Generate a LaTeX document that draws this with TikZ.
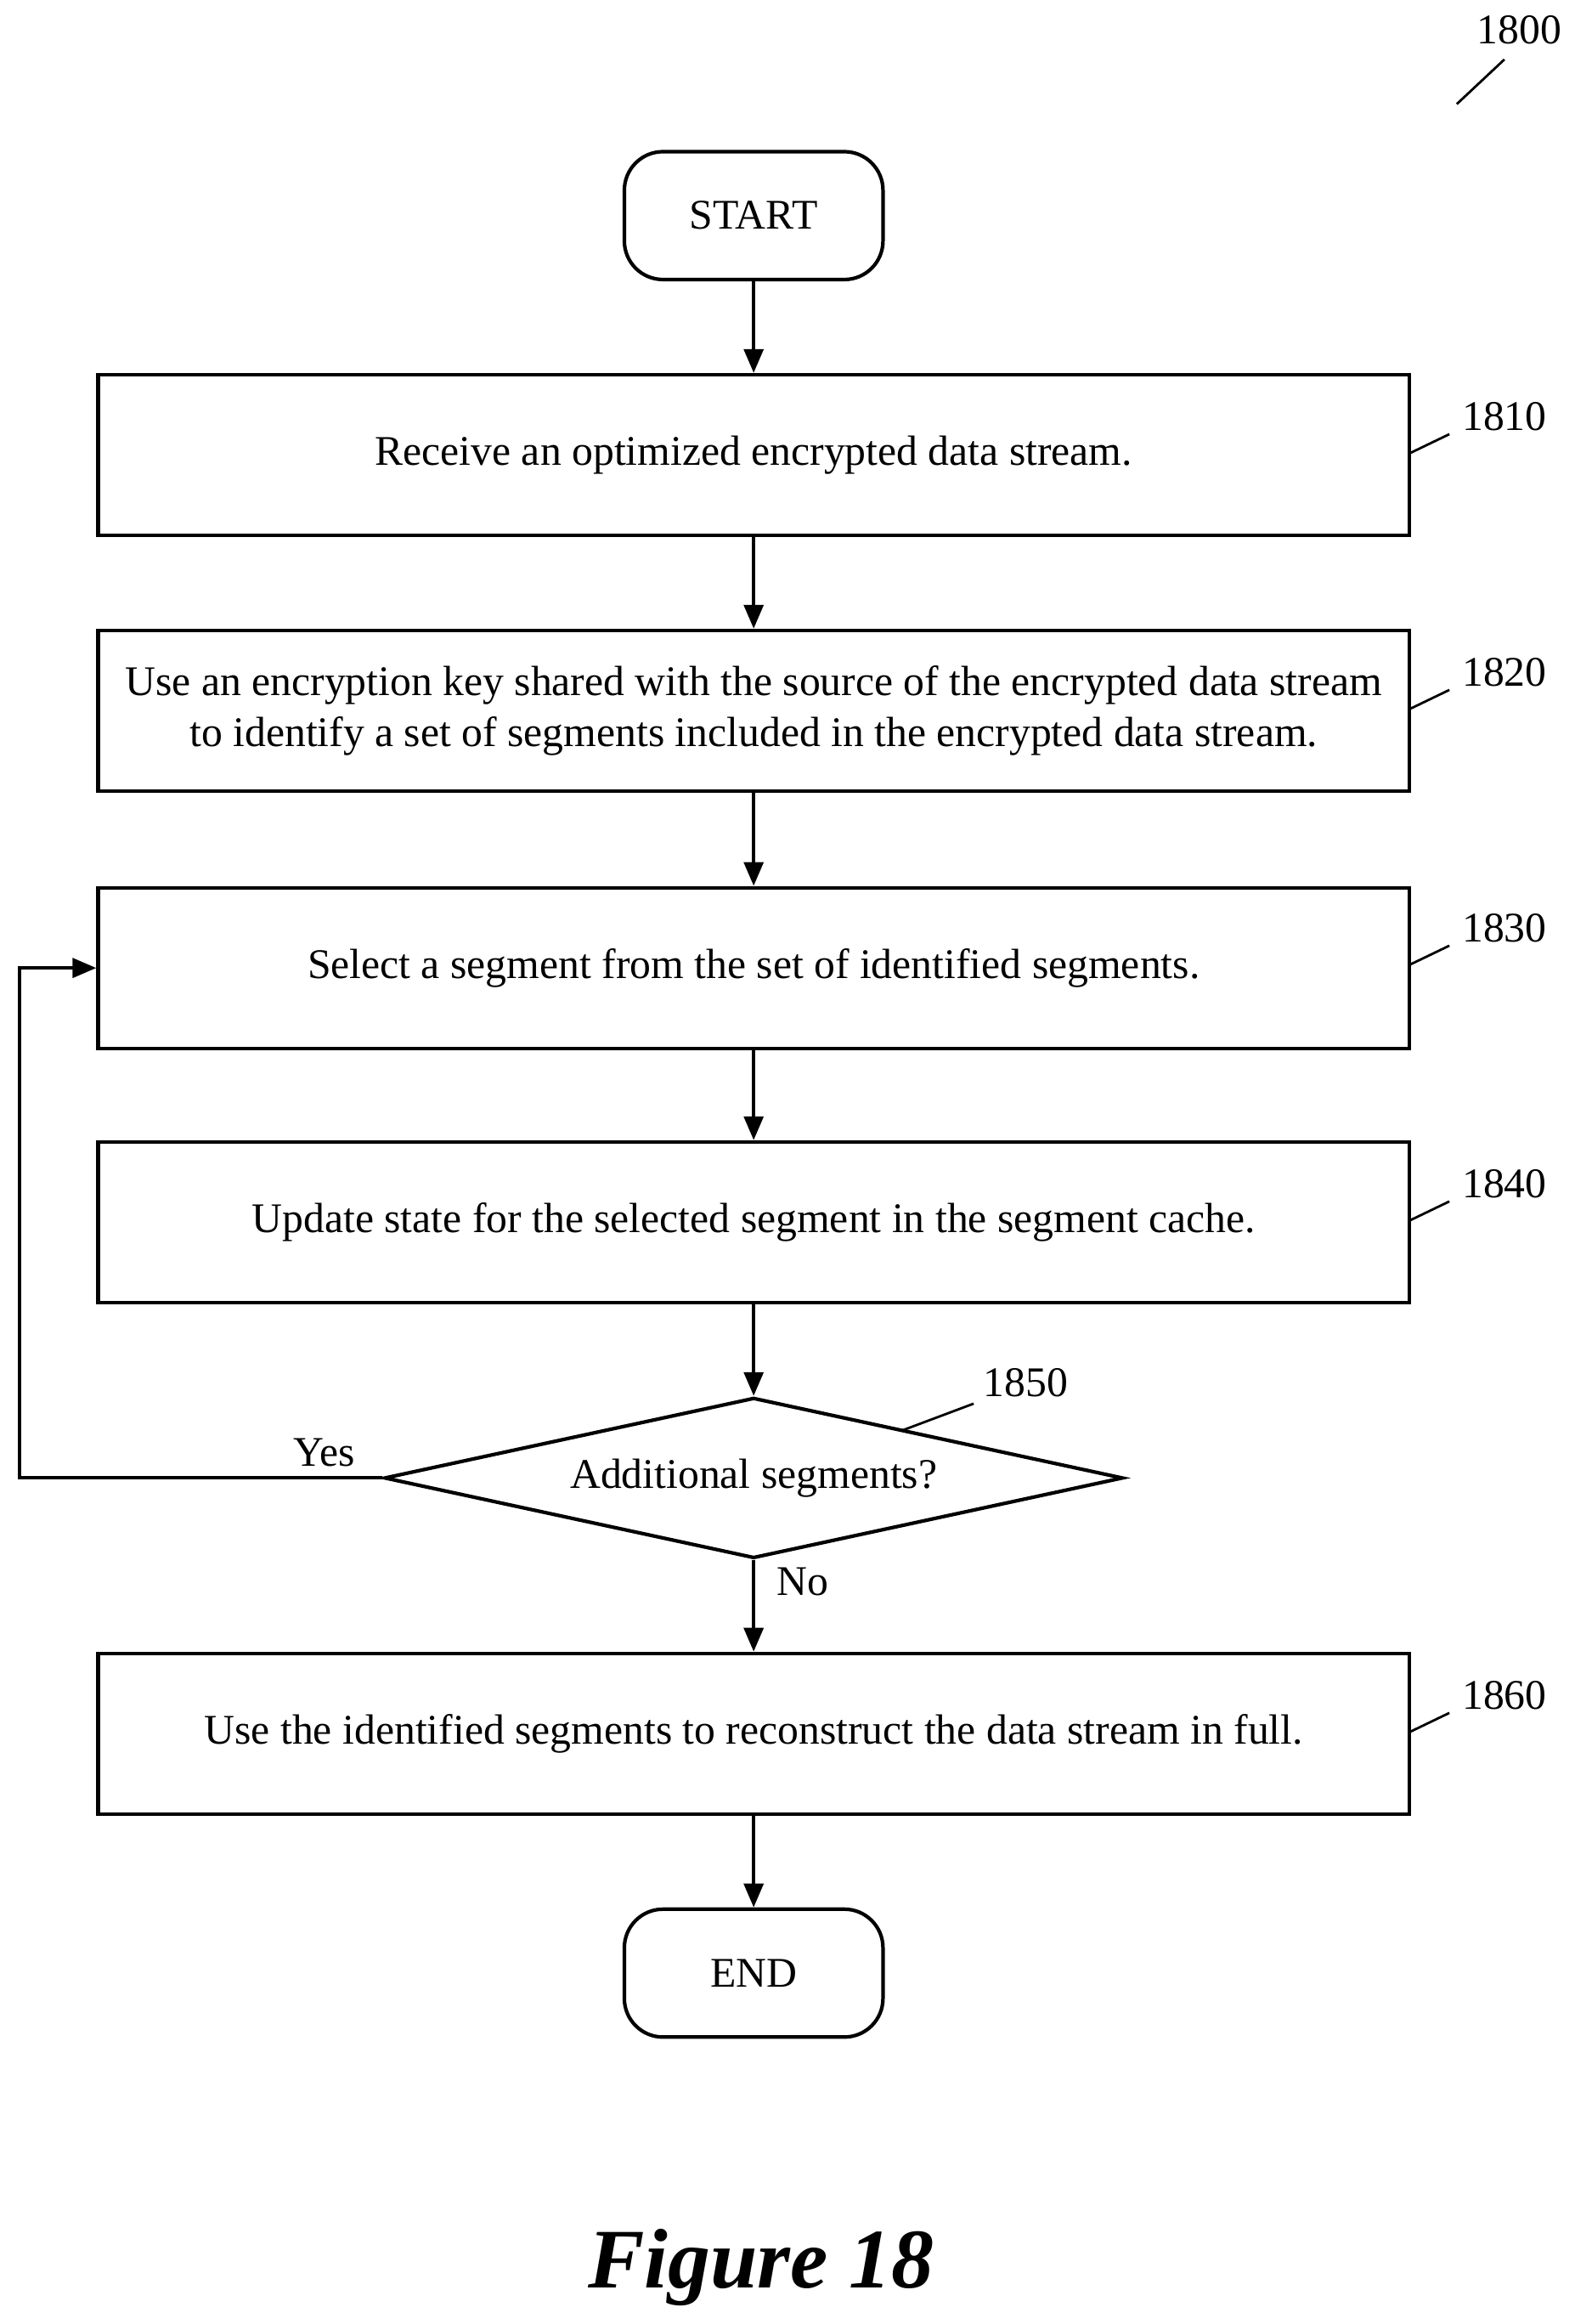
\documentclass[tikz,border=0pt]{standalone}
\usepackage{fontspec}
\setmainfont{Liberation Serif}
\usetikzlibrary{shapes.geometric,arrows.meta}
\begin{document}
\begin{tikzpicture}[x=1pt,y=-1pt,
  every node/.style={font=\fontsize{28.4}{34}\selectfont},
  box/.style={draw,line width=2.4pt,minimum width=882pt,minimum height=108pt,align=center,inner sep=0pt},
  term/.style={draw,line width=2.4pt,rounded corners=26pt,minimum width=174pt,minimum height=86pt},
  arr/.style={line width=2.4pt,-{Triangle[length=16pt,width=13pt]}},
  lead/.style={line width=1.6pt}]
\useasboundingbox (0,0) rectangle (1059,1563);
\node[term] (start) at (507,145) {START};
\node[box] (b1) at (507,306) {Receive an optimized encrypted data stream.};
\node[box] (b2) at (507,478) {Use an encryption key shared with the source of the encrypted data stream\\to identify a set of segments included in the encrypted data stream.};
\node[box] (b3) at (507,651) {Select a segment from the set of identified segments.};
\node[box] (b4) at (507,822) {Update state for the selected segment in the segment cache.};
\node[draw,diamond,line width=2.4pt,minimum width=497pt,minimum height=108pt,aspect=4.6,inner sep=0pt] (d) at (507,994) {Additional segments?};
\node[box] (b6) at (507,1166) {Use the identified segments to reconstruct the data stream in full.};
\node[term] (end) at (507,1327) {END};
\draw[arr] (start) -- (b1);
\draw[arr] (b1) -- (b2);
\draw[arr] (b2) -- (b3);
\draw[arr] (b3) -- (b4);
\draw[arr] (b4) -- (d.north);
\draw[arr] (d.south) -- (b6);
\draw[arr] (b6) -- (end);
\coordinate (lb) at (13,994);
\draw[arr] (d.west) -- (lb) |- (b3.west);
\node (yes) at (218,977) {Yes};
\node (no) at (540,1064) {No};
\node (l1800) at (1022,20) {1800};
\coordinate (a1) at (980,70); \coordinate (a2) at (1012,40);
\draw[lead] (a1) -- (a2);
\foreach \n/\y in {1810/280,1820/452,1830/624,1840/796,1860/1140}{
  \node (l\n) at (1012,\y) {\n};
  \draw[lead] (948,\y+25) -- (975,\y+12);
}
\node (l1850) at (690,930) {1850};
\draw[lead] (607,962) -- (655,944);
\node[font=\fontsize{57}{66}\selectfont\bfseries\itshape] (fig) at (512,1525) {Figure 18};
\end{tikzpicture}
\end{document}
